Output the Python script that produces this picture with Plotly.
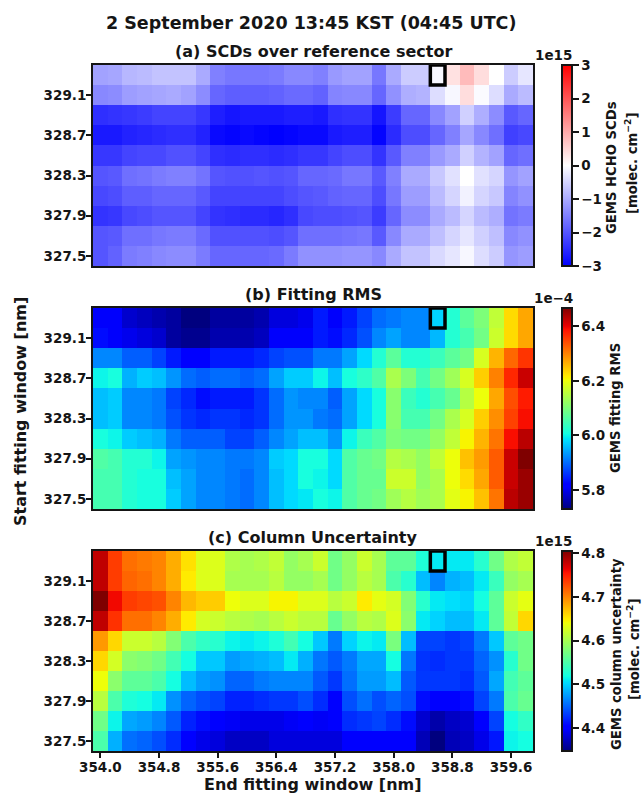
import plotly.graph_objects as go

end_window = [round(354.0 + 0.2 * i, 1) for i in range(30)]
start_window = [329.3, 329.1, 328.9, 328.7, 328.5, 328.3, 328.1, 327.9, 327.7, 327.5]
x_ticks = [354.0, 354.8, 355.6, 356.4, 357.2, 358.0, 358.8, 359.6]
y_ticks = [329.1, 328.7, 328.3, 327.9, 327.5]

scd = [
[-1.1,-1.05,-0.85,-0.8,-0.7,-0.7,-0.7,-1.0,-1.5,-1.6,-1.6,-1.6,-1.55,-1.4,-1.4,-1.5,-1.2,-1.1,-1.1,-1.6,-1.0,-0.6,-0.6,-0.1,0.35,0.8,0.4,0.0,-0.6,-0.3],
[-1.4,-1.35,-1.15,-1.1,-1.05,-1.0,-1.1,-1.35,-1.8,-1.9,-1.9,-1.9,-1.85,-1.75,-1.75,-1.85,-1.45,-1.4,-1.4,-1.8,-1.3,-0.95,-0.9,-0.4,-0.1,0.4,-0.05,-0.4,-1.0,-0.8],
[-2.45,-2.4,-2.35,-2.3,-2.2,-2.2,-2.2,-2.35,-2.65,-2.75,-2.7,-2.7,-2.7,-2.65,-2.65,-2.7,-2.45,-2.4,-2.4,-2.75,-2.3,-1.8,-1.8,-1.4,-1.1,-0.55,-0.95,-1.35,-1.95,-1.8],
[-2.7,-2.7,-2.6,-2.55,-2.5,-2.45,-2.45,-2.6,-2.9,-2.95,-2.9,-2.95,-3.0,-2.95,-2.9,-2.9,-2.7,-2.65,-2.65,-2.95,-2.5,-2.1,-2.1,-1.8,-1.5,-1.05,-1.4,-1.7,-2.25,-2.15],
[-2.35,-2.35,-2.2,-2.15,-2.15,-2.05,-2.05,-2.2,-2.45,-2.5,-2.45,-2.45,-2.5,-2.45,-2.35,-2.35,-2.2,-2.1,-2.1,-2.4,-1.95,-1.5,-1.5,-1.2,-1.0,-0.55,-0.9,-1.1,-1.8,-1.7],
[-2.0,-1.95,-1.7,-1.65,-1.55,-1.5,-1.5,-1.65,-2.0,-2.05,-2.05,-2.0,-2.05,-2.0,-1.8,-1.8,-1.75,-1.6,-1.6,-1.95,-1.5,-1.0,-1.0,-0.65,-0.35,0.0,-0.35,-0.5,-1.25,-1.1],
[-2.15,-2.1,-1.9,-1.9,-1.8,-1.8,-1.8,-1.95,-2.2,-2.2,-2.2,-2.2,-2.2,-2.1,-2.0,-1.95,-1.85,-1.8,-1.8,-2.1,-1.6,-1.15,-1.15,-0.8,-0.5,-0.15,-0.5,-0.65,-1.45,-1.3],
[-2.4,-2.35,-2.15,-2.1,-2.0,-2.0,-2.0,-2.2,-2.4,-2.45,-2.5,-2.5,-2.55,-2.45,-2.15,-2.1,-2.1,-2.05,-2.0,-2.3,-1.8,-1.35,-1.35,-1.0,-0.8,-0.5,-0.8,-0.95,-1.65,-1.55],
[-2.0,-1.95,-1.7,-1.7,-1.6,-1.55,-1.55,-1.75,-2.05,-2.05,-2.05,-2.05,-2.1,-2.0,-1.7,-1.7,-1.7,-1.65,-1.6,-1.95,-1.4,-1.0,-1.0,-0.75,-0.5,-0.3,-0.55,-0.75,-1.4,-1.3],
[-2.0,-1.85,-1.55,-1.5,-1.4,-1.35,-1.35,-1.55,-1.8,-1.8,-1.8,-1.8,-1.75,-1.55,-1.3,-1.3,-1.3,-1.25,-1.25,-1.4,-1.0,-0.7,-0.7,-0.45,-0.3,-0.1,-0.4,-0.6,-1.25,-1.15],
]

rms = [
[5.81,5.81,5.78,5.77,5.76,5.75,5.73,5.73,5.75,5.75,5.75,5.76,5.79,5.79,5.80,5.84,5.81,5.84,5.87,5.90,5.91,5.92,5.92,5.975,6.02,6.07,6.10,6.16,6.23,6.27],
[5.83,5.81,5.80,5.79,5.78,5.75,5.74,5.74,5.76,5.76,5.76,5.77,5.81,5.81,5.81,5.84,5.83,5.85,5.88,5.92,5.94,5.92,5.92,5.955,6.02,6.05,6.09,6.17,6.23,6.27],
[5.92,5.92,5.89,5.89,5.87,5.84,5.82,5.82,5.84,5.84,5.84,5.85,5.87,5.88,5.88,5.91,5.91,5.94,5.98,6.02,6.07,6.02,6.02,6.04,6.07,6.09,6.18,6.26,6.32,6.36],
[6.00,6.01,5.95,5.97,5.96,5.93,5.90,5.89,5.90,5.90,5.89,5.90,5.94,5.97,5.97,6.00,5.96,6.01,6.03,6.06,6.14,6.10,6.05,6.09,6.13,6.18,6.24,6.30,6.37,6.42],
[5.96,5.97,5.92,5.92,5.91,5.87,5.85,5.83,5.84,5.84,5.84,5.86,5.90,5.93,5.92,5.92,5.89,5.94,5.98,6.01,6.11,6.04,6.02,6.05,6.08,6.15,6.20,6.27,6.34,6.38],
[5.96,5.97,5.92,5.92,5.91,5.88,5.86,5.85,5.86,5.86,5.85,5.86,5.90,5.93,5.93,5.91,5.90,5.94,5.98,6.01,6.11,6.05,6.05,6.09,6.14,6.18,6.24,6.29,6.35,6.39],
[6.01,6.00,5.97,5.96,5.95,5.91,5.89,5.89,5.89,5.87,5.87,5.89,5.92,5.94,5.96,5.96,5.93,6.00,6.04,6.06,6.10,6.09,6.09,6.12,6.16,6.21,6.26,6.31,6.39,6.43],
[6.06,6.05,6.02,6.02,6.00,5.94,5.93,5.92,5.92,5.91,5.91,5.92,5.97,5.98,6.01,6.01,5.98,6.06,6.08,6.09,6.15,6.14,6.12,6.16,6.20,6.25,6.28,6.33,6.42,6.47],
[6.05,6.05,6.02,6.01,6.01,5.96,5.94,5.92,5.92,5.91,5.90,5.92,5.96,5.98,6.01,6.00,5.98,6.06,6.08,6.08,6.17,6.17,6.12,6.14,6.20,6.23,6.27,6.33,6.42,6.45],
[6.05,6.05,6.02,6.01,6.01,5.97,5.94,5.92,5.92,5.91,5.90,5.92,5.96,5.98,5.99,6.01,6.00,6.06,6.08,6.09,6.13,6.15,6.13,6.14,6.19,6.21,6.25,6.31,6.43,6.45],
]

uncertainty = [
[4.78,4.735,4.71,4.705,4.70,4.68,4.655,4.63,4.63,4.605,4.60,4.605,4.615,4.59,4.60,4.62,4.57,4.59,4.62,4.60,4.56,4.56,4.525,4.51,4.51,4.51,4.53,4.57,4.605,4.615],
[4.78,4.735,4.715,4.71,4.70,4.68,4.65,4.63,4.63,4.60,4.60,4.60,4.61,4.59,4.59,4.60,4.57,4.59,4.61,4.60,4.55,4.53,4.49,4.465,4.485,4.49,4.51,4.54,4.59,4.60],
[4.805,4.76,4.735,4.73,4.725,4.70,4.675,4.665,4.665,4.64,4.63,4.63,4.645,4.645,4.63,4.63,4.61,4.62,4.65,4.635,4.625,4.58,4.53,4.51,4.505,4.50,4.52,4.56,4.62,4.635],
[4.78,4.74,4.71,4.71,4.70,4.68,4.65,4.625,4.62,4.61,4.605,4.60,4.61,4.62,4.61,4.61,4.565,4.59,4.61,4.605,4.63,4.585,4.51,4.50,4.49,4.49,4.51,4.56,4.615,4.66],
[4.69,4.66,4.62,4.62,4.61,4.58,4.55,4.535,4.53,4.515,4.51,4.515,4.525,4.545,4.52,4.495,4.46,4.50,4.515,4.51,4.575,4.49,4.435,4.435,4.43,4.435,4.46,4.495,4.56,4.57],
[4.66,4.625,4.585,4.58,4.57,4.545,4.52,4.495,4.495,4.475,4.48,4.484,4.49,4.51,4.484,4.458,4.445,4.46,4.48,4.48,4.52,4.458,4.428,4.425,4.43,4.43,4.45,4.47,4.53,4.57],
[4.64,4.585,4.56,4.56,4.55,4.52,4.49,4.475,4.47,4.45,4.45,4.46,4.465,4.465,4.465,4.445,4.43,4.455,4.475,4.475,4.49,4.445,4.43,4.43,4.43,4.425,4.445,4.48,4.545,4.56],
[4.61,4.55,4.525,4.52,4.51,4.47,4.45,4.44,4.435,4.42,4.42,4.425,4.43,4.43,4.44,4.425,4.405,4.44,4.455,4.44,4.45,4.44,4.41,4.40,4.40,4.41,4.435,4.46,4.55,4.565],
[4.57,4.515,4.48,4.475,4.465,4.445,4.42,4.41,4.40,4.395,4.39,4.39,4.39,4.395,4.405,4.395,4.40,4.425,4.43,4.435,4.425,4.41,4.38,4.365,4.375,4.38,4.40,4.435,4.52,4.535],
[4.55,4.484,4.455,4.45,4.44,4.425,4.40,4.39,4.385,4.375,4.375,4.375,4.385,4.385,4.385,4.385,4.385,4.40,4.405,4.405,4.40,4.40,4.37,4.348,4.37,4.375,4.39,4.415,4.515,4.52],
]

titles = ["(a) SCDs over reference sector", "(b) Fitting RMS", "(c) Column Uncertainty"]
cb_line1 = ["GEMS HCHO SCDs", "GEMS fitting RMS", "GEMS column uncertainty"]
cb_line2 = ["[molec. cm<sup>−2</sup>]", "", "[molec. cm<sup>−2</sup>]"]
exponents = ["1e15", "1e−4", "1e15"]
panels = [scd, rms, uncertainty]
ranges = [(-3, 3), (5.73, 6.467), (4.348, 4.805)]
cb_ticks = [[-3, -2, -1, 0, 1, 2, 3], [5.8, 6.0, 6.2, 6.4], [4.4, 4.5, 4.6, 4.7, 4.8]]
cb_fmt = ["d", ".1f", ".1f"]
highlight_x = 358.6
highlight_y = 329.3

W, H = 643, 793
tops = [65, 308, 551]
bots = [266, 509, 751]
LEFT, RIGHT = 93, 533
cb_x1 = [612, 615, 616]
cb_x2 = [631, 0, 633]
cb_y1 = [168, 408, 654]
cb_y2 = [164, 0, 650]
FONT = "DejaVu Sans"
INK = "#151515"

bwr = [[0, "rgb(0,0,255)"], [0.5, "rgb(255,255,255)"], [1, "rgb(255,0,0)"]]
jet = [[0, "rgb(0,0,127)"], [0.11, "rgb(0,0,255)"], [0.125, "rgb(0,0,255)"], [0.34, "rgb(0,219,255)"],
       [0.35, "rgb(0,229,247)"], [0.375, "rgb(20,255,226)"], [0.64, "rgb(239,255,8)"], [0.65, "rgb(247,245,0)"],
       [0.66, "rgb(255,236,0)"], [0.89, "rgb(255,19,0)"], [0.91, "rgb(232,0,0)"], [1, "rgb(127,0,0)"]]
scales = [bwr, jet, jet]


def py(p):
    return 1 - p / H


def px(p):
    return p / W


def note(text, x, y, size, xanchor="center", yanchor="middle", angle=0):
    return dict(text=text, x=px(x), y=py(y), xref="paper", yref="paper", xanchor=xanchor, yanchor=yanchor,
                textangle=angle, showarrow=False, borderpad=0,
                font=dict(family=FONT, size=size, color=INK, weight=700))


fig = go.Figure()
annotations = []
tf = dict(family=FONT, size=13.5, color=INK, weight=700)

for i in range(3):
    ax = "" if i == 0 else str(i + 1)
    fig.add_trace(go.Heatmap(
        x=end_window, y=start_window, z=panels[i], xaxis="x" + ax, yaxis="y" + ax,
        zmin=ranges[i][0], zmax=ranges[i][1], colorscale=scales[i], zsmooth=False,
        colorbar=dict(
            x=px(562), xanchor="left", xpad=0, ypad=0, thickness=10, thicknessmode="pixels",
            y=py(bots[i]), yanchor="bottom", len=(bots[i] - tops[i]) / H, lenmode="fraction",
            tickmode="array", tickvals=cb_ticks[i], tickformat=cb_fmt[i], ticks="outside", ticklen=6,
            tickwidth=1.5, tickcolor=INK, tickfont=tf, outlinewidth=2, outlinecolor=INK,
        ),
    ))
    fig.update_layout(**{
        "xaxis" + ax: dict(
            domain=[px(LEFT), px(RIGHT)], range=[353.9, 359.9], anchor="y" + ax, automargin=False,
            tickmode="array", tickvals=x_ticks if i == 2 else [],
            ticktext=[f"{v:.1f}" for v in x_ticks] if i == 2 else [],
            ticks="outside" if i == 2 else "", ticklen=5, tickwidth=1.5, tickcolor=INK, tickfont=tf,
            ticklabelstandoff=-2,
            showgrid=False, zeroline=False, showline=True, mirror=True, linewidth=2, linecolor=INK,
        ),
        "yaxis" + ax: dict(
            domain=[py(bots[i]), py(tops[i])], range=[327.4, 329.4], anchor="x" + ax, automargin=False,
            tickmode="array", tickvals=y_ticks, ticktext=[f"{v:.1f}" for v in y_ticks],
            ticks="outside", ticklen=5, tickwidth=1.5, tickcolor=INK, tickfont=tf, ticklabelstandoff=-3,
            showgrid=False, zeroline=False, showline=True, mirror=True, linewidth=2, linecolor=INK,
        ),
    })
    fig.add_shape(type="rect", xref="x" + ax, yref="y" + ax,
                  x0=highlight_x - 0.1, x1=highlight_x + 0.1,
                  y0=highlight_y - 0.1, y1=highlight_y + 0.1,
                  line=dict(color="black", width=3.5), fillcolor="rgba(0,0,0,0)")
    annotations.append(note(titles[i], 313, tops[i] - 3, 16, yanchor="bottom"))
    annotations.append(note(exponents[i], 553, tops[i] - 1.5, 13.5, yanchor="bottom"))
    annotations.append(note(cb_line1[i], cb_x1[i], cb_y1[i], 13.2, angle=-90))
    if cb_line2[i]:
        annotations.append(note(cb_line2[i], cb_x2[i], cb_y2[i], 13.2, angle=-90))

annotations.append(note("2 September 2020 13:45 KST (04:45 UTC)", 311, 23, 17.5))
annotations.append(note("Start fitting window [nm]", 20, 412, 16, angle=-90))
annotations.append(note("End fitting window [nm]", 313, 784, 16))

fig.update_layout(width=W, height=H, margin=dict(l=0, r=0, t=0, b=0), autosize=False,
                  paper_bgcolor="white", plot_bgcolor="white", annotations=annotations,
                  font=dict(family=FONT, color=INK))
fig.write_html("out.html", config={"displayModeBar": False},
               post_script="document.body.style.margin='0';document.body.style.overflow='hidden';")
